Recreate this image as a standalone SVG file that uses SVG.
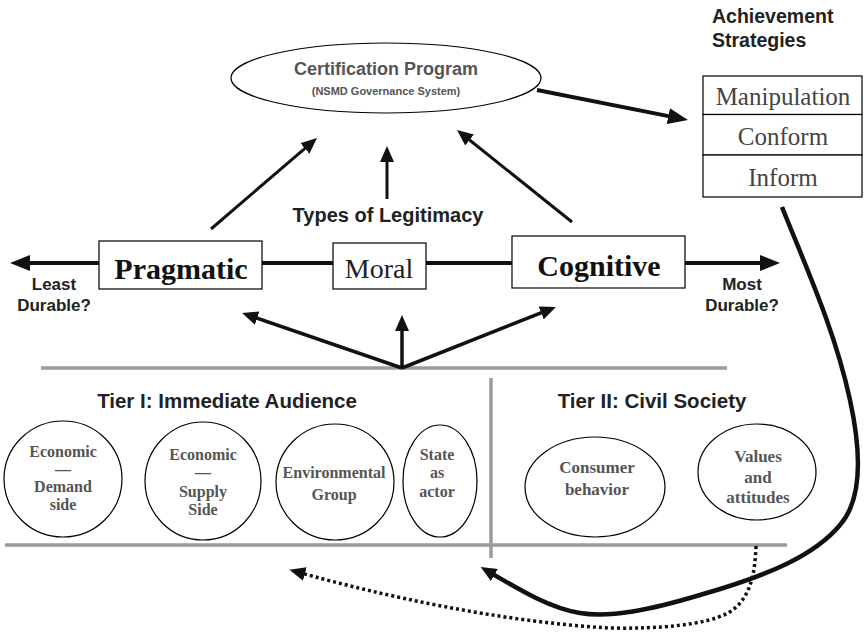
<svg xmlns="http://www.w3.org/2000/svg" width="864" height="635" viewBox="0 0 864 635">
<style>
.box{fill:#fff;stroke:#000;stroke-width:1.2}
.oval{fill:#fff;stroke:#000;stroke-width:1.2}
.sans{font-family:"Liberation Sans",Arial,sans-serif;font-weight:bold;fill:#222}
.ct{font-family:"Liberation Serif","Times New Roman",serif;font-weight:bold;font-size:16px;fill:#555;text-anchor:middle}
.ct2{font-family:"Liberation Serif","Times New Roman",serif;font-weight:bold;font-size:17px;fill:#555;text-anchor:middle}
.strat{font-family:"Liberation Serif","Times New Roman",serif;font-size:25px;fill:#444;text-anchor:middle}
.gray{stroke:#9a9a9a;stroke-width:3.5;fill:none}
.conn{stroke:#111;fill:none}
.mid{text-anchor:middle}
</style>
<defs>
<marker id="ah" viewBox="0 0 16 14" refX="4" refY="7" markerWidth="16" markerHeight="14" markerUnits="userSpaceOnUse" orient="auto-start-reverse"><path d="M0,0 L16,7 L0,14 z" fill="#111"/></marker>
<marker id="ahL" viewBox="0 0 20 16" refX="4" refY="8" markerWidth="20" markerHeight="16" markerUnits="userSpaceOnUse" orient="auto-start-reverse"><path d="M0,0 L20,8 L0,16 z" fill="#111"/></marker>
</defs>

<g id="dividers">
<line class="gray" x1="41" y1="368" x2="727" y2="368"/>
<line class="gray" x1="491" y1="378" x2="491" y2="558"/>
<line class="gray" x1="5" y1="545" x2="787" y2="545"/>
</g>

<g id="connectors">
<path class="conn" stroke-width="4" d="M26,263 H764" marker-start="url(#ahL)" marker-end="url(#ahL)"/>
<line class="conn" stroke-width="3" x1="211" y1="229" x2="307.9" y2="145.8" marker-end="url(#ah)"/>
<line class="conn" stroke-width="3" x1="387" y1="199" x2="387" y2="158" marker-end="url(#ah)"/>
<line class="conn" stroke-width="3" x1="572" y1="222" x2="466.4" y2="137.5" marker-end="url(#ah)"/>
<line class="conn" stroke-width="4" x1="537" y1="90" x2="672.3" y2="116.9" marker-end="url(#ahL)"/>
<line class="conn" stroke-width="3.5" x1="402" y1="368" x2="253.4" y2="316.9" marker-end="url(#ah)"/>
<line class="conn" stroke-width="3.5" x1="402" y1="368" x2="402" y2="327" marker-end="url(#ah)"/>
<line class="conn" stroke-width="3.5" x1="402" y1="368" x2="544.8" y2="311.4" marker-end="url(#ah)"/>
<path class="conn" stroke-width="4.5" d="M782,207 C805,265 835,330 850,400 C862,455 862,500 840,525 C815,555 770,575 700,595 C650,610 610,618 580,613 C550,608 520,590 491,573" marker-end="url(#ah)"/>
<path class="conn" stroke-width="3.5" stroke-dasharray="3 3" d="M756,546 C755,575 750,600 728,613 C705,625 660,629 610,628 C500,622 380,595 301,573" marker-end="url(#ah)"/>
</g>

<g id="certification">
<ellipse class="oval" cx="386" cy="78" rx="155" ry="35"/>
<text class="sans mid" x="386" y="75" font-size="18" style="fill:#555">Certification Program</text>
<text class="sans mid" x="386" y="95" font-size="11" style="fill:#555">(NSMD Governance System)</text>
</g>

<g id="strategies">
<text class="sans" x="712" y="23" font-size="19.5">Achievement</text>
<text class="sans" x="712" y="47" font-size="19.5">Strategies</text>
<rect class="box" x="703" y="76" width="159" height="38.5"/>
<rect class="box" x="703" y="114.5" width="159" height="40.5"/>
<rect class="box" x="703" y="155" width="159" height="42"/>
<text class="strat" x="783" y="105">Manipulation</text>
<text class="strat" x="783" y="145">Conform</text>
<text class="strat" x="783" y="186">Inform</text>
</g>

<text class="sans mid" x="388" y="222" font-size="20">Types of Legitimacy</text>

<g id="pragmatic">
<rect class="box" x="99" y="241" width="163" height="48"/>
<text x="181" y="279" font-family="Liberation Serif, Times New Roman, serif" font-weight="bold" font-size="30" fill="#111" text-anchor="middle">Pragmatic</text>
</g>
<g id="moral">
<rect class="box" x="333" y="243" width="93" height="46"/>
<text x="379" y="278" font-family="Liberation Serif, Times New Roman, serif" font-size="28" fill="#222" text-anchor="middle">Moral</text>
</g>
<g id="cognitive">
<rect class="box" x="512" y="236" width="173" height="52"/>
<text x="599" y="276" font-family="Liberation Serif, Times New Roman, serif" font-weight="bold" font-size="30" fill="#111" text-anchor="middle">Cognitive</text>
</g>

<g id="least">
<text class="sans mid" x="54" y="290" font-size="17">Least</text>
<text class="sans mid" x="54" y="311" font-size="17">Durable?</text>
</g>
<g id="most">
<text class="sans mid" x="742" y="290" font-size="17">Most</text>
<text class="sans mid" x="742" y="311" font-size="17">Durable?</text>
</g>

<text class="sans mid" x="227" y="408" font-size="20.5">Tier I: Immediate Audience</text>
<text class="sans mid" x="652" y="408" font-size="20.5">Tier II: Civil Society</text>

<g id="econ-demand">
<ellipse class="oval" cx="63" cy="479" rx="59" ry="58"/>
<text class="ct" x="63" y="457">Economic</text>
<text class="ct" x="63" y="475">—</text>
<text class="ct" x="63" y="492">Demand</text>
<text class="ct" x="63" y="510">side</text>
</g>
<g id="econ-supply">
<ellipse class="oval" cx="203" cy="481" rx="58" ry="59"/>
<text class="ct" x="203" y="460">Economic</text>
<text class="ct" x="203" y="478">—</text>
<text class="ct" x="203" y="497">Supply</text>
<text class="ct" x="203" y="515">Side</text>
</g>
<g id="environmental">
<ellipse class="oval" cx="335" cy="482" rx="59" ry="58"/>
<text class="ct" x="334" y="478">Environmental</text>
<text class="ct" x="334" y="500">Group</text>
</g>
<g id="state">
<ellipse class="oval" cx="440" cy="481" rx="37" ry="56"/>
<text class="ct" x="437" y="460">State</text>
<text class="ct" x="437" y="478">as</text>
<text class="ct" x="437" y="497">actor</text>
</g>
<g id="consumer">
<ellipse class="oval" cx="595" cy="487" rx="70" ry="50"/>
<text class="ct2" x="597" y="473">Consumer</text>
<text class="ct2" x="597" y="495">behavior</text>
</g>
<g id="values">
<ellipse class="oval" cx="757" cy="472" rx="59" ry="48"/>
<text class="ct2" x="758" y="462">Values</text>
<text class="ct2" x="758" y="483">and</text>
<text class="ct2" x="758" y="503">attitudes</text>
</g>
</svg>
